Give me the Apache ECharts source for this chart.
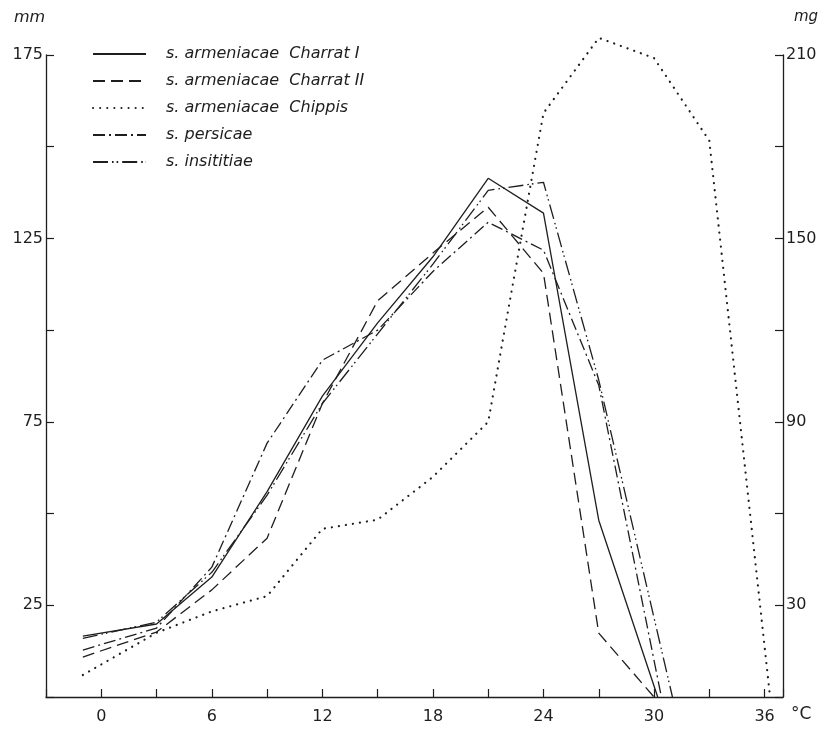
<!DOCTYPE html>
<html>
<head>
<meta charset="utf-8">
<script src="https://cdn.jsdelivr.net/npm/echarts@6/dist/echarts.min.js"></script>
<style>
  html, body { margin: 0; padding: 0; background: #fff; }
  #main { width: 821px; height: 729px; }
</style>
</head>
<body>
<div id="main"></div>
<script>
// temperatures (°C) of the measured points
var temps = [-1, 3, 6, 9, 12, 15, 18, 21, 24, 27];
// growth in mm
var charrat1 = [16.6, 19.9, 32.7, 56, 82, 102, 120, 141.4, 131.9, 48.2];
var charrat2 = [10.9, 17.7, 29.2, 43.3, 80, 108, 121, 133.5, 115.5, 17.4];
var persicae = [12.8, 18.8, 35.4, 69.2, 91.8, 100, 116, 129.4, 121.8, 85];
var insititiae = [16, 20.4, 34, 55, 80, 99, 118, 138.1, 140.3, 86.4];
// temperature where each mm curve reaches zero
var endTemps = [30.2, 30, 30.4, 31];
// Chippis, in mg (right axis)
var chippisTemps = [-1, 3, 6, 9, 12, 15, 18, 21, 24, 27, 30, 33, 36.3];
var chippisMg = [7.2, 21, 28, 33, 55, 58, 72, 90, 191, 215.6, 209, 182, 0];

var names = [
    's. armeniacae  Charrat I',
    's. armeniacae  Charrat II',
    's. armeniacae  Chippis',
    's. persicae',
    's. insititiae'
];

var ink = '#1e1e1e';
var font = 'DejaVu Sans';

function pairs(xs, ys, endT) {
    var out = xs.map(function (x, i) { return [x, ys[i]]; });
    if (endT !== undefined) out.push([endT, 0]);
    return out;
}

function mkSeries(name, data, type, width, yIdx, cap) {
    return {
        name: name,
        type: 'line',
        yAxisIndex: yIdx || 0,
        data: data,
        symbol: 'none',
        showSymbol: false,
        clip: false,
        itemStyle: { color: ink },
        lineStyle: { color: ink, width: width, type: type, cap: cap || 'butt' }
    };
}

var axisLine = { show: true, onZero: false, lineStyle: { color: ink, width: 1.3 } };
var axisTick = { show: true, inside: true, length: 8, lineStyle: { color: ink, width: 1.2 } };

var option = {
    animation: false,
    backgroundColor: '#fff',
    grid: { left: 46, right: 38, top: 55, bottom: 32 },
    legend: {
        orient: 'vertical',
        left: 87,
        top: 41,
        itemWidth: 53,
        itemHeight: 14,
        itemGap: 11,
        itemStyle: { opacity: 0 },
        textStyle: { fontFamily: font, fontStyle: 'italic', fontSize: 16, color: ink, padding: [0, 0, 0, 15] },
        data: names
    },
    xAxis: {
        type: 'value',
        min: -3,
        max: 37,
        interval: 3,
        axisLine: axisLine,
        axisTick: axisTick,
        splitLine: { show: false },
        axisLabel: {
            margin: 12, color: ink, fontSize: 16, fontFamily: font,
            formatter: function (v) { return (v >= 0 && v % 6 === 0) ? v : ''; }
        }
    },
    yAxis: [{
        type: 'value',
        position: 'left',
        min: 0,
        max: 175,
        interval: 25,
        axisLine: axisLine,
        axisTick: axisTick,
        splitLine: { show: false },
        axisLabel: {
            margin: 3, color: ink, fontSize: 16, fontFamily: font,
            formatter: function (v) { return v % 50 === 25 ? v : ''; }
        }
    }, {
        type: 'value',
        position: 'right',
        min: 0,
        max: 210,
        interval: 30,
        axisLine: axisLine,
        axisTick: axisTick,
        splitLine: { show: false },
        axisLabel: {
            margin: 3, color: ink, fontSize: 16, fontFamily: font,
            formatter: function (v) { return v % 60 === 30 ? v : ''; }
        }
    }],
    graphic: [
        { type: 'text', left: 14, top: 10, style: { text: 'mm', font: 'italic 16px "DejaVu Sans"', fill: ink } },
        { type: 'text', left: 794, top: 10, style: { text: 'mg', font: 'italic 15px "DejaVu Sans"', fill: ink } },
        { type: 'text', left: 791, top: 706, style: { text: '°C', font: '17px "DejaVu Sans"', fill: ink } }
    ],
    series: [
        mkSeries(names[0], pairs(temps, charrat1, endTemps[0]), 'solid', 1.3),
        mkSeries(names[1], pairs(temps, charrat2, endTemps[1]), [12, 6], 1.3),
        mkSeries(names[2], pairs(chippisTemps, chippisMg), [0.1, 7], 2.2, 1, 'round'),
        mkSeries(names[3], pairs(temps, persicae, endTemps[2]), [12, 4, 2, 4], 1.3),
        mkSeries(names[4], pairs(temps, insititiae, endTemps[3]), [15, 4, 1.6, 3, 1.6, 4], 1.3)
    ]
};

var chart = echarts.init(document.getElementById('main'));
chart.setOption(option);
</script>
</body>
</html>
